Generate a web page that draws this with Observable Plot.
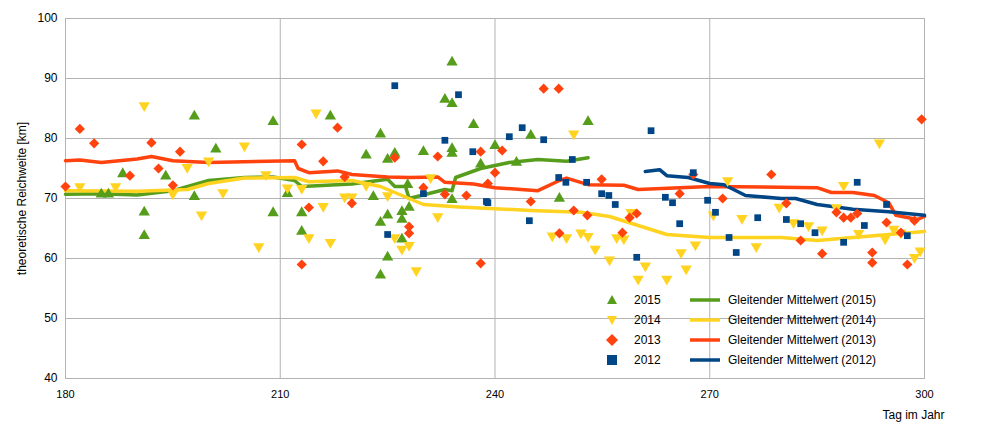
<!DOCTYPE html>
<html><head><meta charset="utf-8">
<script src="https://cdn.jsdelivr.net/npm/d3@7"></script>
<script src="https://cdn.jsdelivr.net/npm/@observablehq/plot@0.6"></script>
<style>
body{margin:0;background:#fff;font-family:"Liberation Sans",Arial,sans-serif;}
#wrap{position:relative;width:997px;height:435px;}
#legend{position:absolute;left:600px;top:290px;font-size:12px;color:#000;}
.row{height:20px;display:flex;align-items:center;}
.it{display:inline-flex;align-items:center;}
</style></head><body>
<div id="wrap"><div id="chart"></div><div id="legend"></div></div>
<script>
const s2015 = [[185,70.7],[186,70.7],[188,74.1],[191,67.7],[191,63.8],[194,73.7],[198,83.7],[198,70.3],[201,78.2],[209,82.8],[209,67.6],[211,70.8],[213,67.6],[213,64.5],[217,83.7],[222,77.2],[223,70.3],[224,80.7],[224,66],[224,57.2],[225,76.5],[225,67.2],[225,60.2],[226,77.5],[227,67.8],[227,66.5],[227,63.2],[227.8,72.3],[228,68.5],[230,77.8],[233,86.5],[234,92.7],[234,85.8],[234,78.3],[234,77.5],[234,69.8],[237,82.3],[238,75.7],[240,78.8],[243,76],[245,80.5],[249,70],[253,82.8]];
const s2014 = [[182,72],[187,72],[191,85.5],[195,70.8],[197,75.2],[199,67.3],[200,76.3],[202,71],[205,78.8],[207,62],[208,74],[211,71.8],[213,71.7],[214,63.5],[215,84.3],[216,68.7],[217,62.7],[219,70.3],[220,70.3],[222,72.2],[225,70.5],[226,63.5],[227,61.6],[228,62.2],[229,58],[231,73.5],[232,67],[248,63.8],[250,63.5],[251,80.8],[252,64.3],[253,63.7],[254,61.6],[256,59.8],[257,63.5],[258,63.3],[259,67.7],[260,56.6],[261,58.8],[264,56.6],[266,61],[266.7,58.3],[268,62.3],[270.5,67.3],[272.5,73],[274.5,66.7],[276.5,62],[279.7,68.6],[281.7,66],[283.8,65.5],[285.7,64.8],[287.7,68.5],[288.7,72.2],[290.8,64.2],[293.7,79.3],[294.5,63.3],[295.7,64.9],[296.7,64.3],[298.6,60.2],[299.4,61.3]];
const s2013 = [[180,72],[182,81.6],[184,79.2],[189,73.8],[192,79.3],[193,75],[195,72.2],[196,77.8],[213,79],[213,59],[214,68.5],[216,76.2],[218,81.8],[219,73.6],[220,69.2],[226,76.8],[228,65.3],[228,64.2],[230,71.8],[232,77],[233,70.7],[236,70.5],[238,77.8],[238,59.2],[239,72.5],[240,74.3],[241,78],[245,69.5],[246.8,88.3],[248.9,88.3],[249,64.2],[251,68],[252.9,67.2],[254.9,73.2],[257.8,64.3],[258.8,66.8],[259.8,67.5],[265.8,70.8],[267.7,74],[271.8,70],[278.6,74],[280.7,69.2],[282.7,63],[285.7,60.8],[287.7,67.7],[288.7,66.8],[289.7,66.8],[290.6,67.5],[292.7,61],[292.7,59.3],[294.7,66],[296.7,64.3],[297.6,59],[298.6,66.3],[299.6,83.2]];
const s2012 = [[225,64],[226,88.8],[230,70.8],[233,79.7],[234.9,87.3],[236.9,77.8],[238.8,69.5],[239,69.3],[242,80.3],[243.8,81.8],[244.8,66.3],[246.8,79.8],[248.9,73.5],[249.9,72.7],[250.8,76.5],[252.8,72.7],[254.9,70.8],[255.9,70.5],[256.8,69],[259.8,60.2],[261.8,81.3],[263.8,70.2],[264.8,69.3],[265.8,65.8],[267.7,74.3],[269.7,69.7],[270.8,67.7],[272.7,63.5],[273.7,61],[276.7,66.8],[280.7,66.5],[282.7,65.8],[284.7,64.3],[288.7,62.7],[290.6,72.7],[291.6,65.5],[294.7,69],[297.6,63.8]];
const m2015 = [[180,70.7],[185,70.8],[190,70.6],[195,71.3],[200,73],[205,73.5],[209,73.6],[212,73],[213,72],[220,72.4],[225,73.2],[226,72],[227.5,72],[228,70],[233,71.5],[234,71.3],[234.5,73.5],[238,75],[242,76],[246,76.5],[250,76.2],[253,76.8]];
const m2014 = [[180,71.3],[190,71.2],[197,71.5],[200,72.5],[205,73.4],[212,73.5],[214,72.8],[220,73],[224,72],[226,71],[230,69],[235,68.6],[245,68],[252,67.7],[256,67],[260,65.5],[264,64],[270,63.5],[280,63.5],[285,63],[290,63.5],[295,64],[300,64.5]];
const m2013 = [[180,76.3],[182,76.4],[185,76],[190,76.6],[192,77],[195,76.3],[200,76],[212,76.3],[212.5,75],[214,74.3],[218,74.6],[220,74],[225,73.6],[228,73.5],[232,73.6],[233,72.7],[237,72.4],[240,71.8],[246,71.3],[249,73],[250,73.4],[253,72.3],[258,72.2],[260,71.5],[270,72],[285,71.8],[287,71],[290,71],[293,70.5],[295,69.3],[296,67.2],[299,66.5],[300,67]];
const m2012 = [[261,74.5],[263,74.8],[264,73.8],[267,73.5],[270,72.5],[272,72.3],[275,70.5],[280,70],[282,70],[285,69],[290,68.2],[295,67.8],[300,67.2]];
const xTicks = [180,210,240,270,300];
const yTicks = [40,50,60,70,80,90,100];
const C = {g:"#579d1c", y:"#ffd320", r:"#ff420e", b:"#004586"};

const pts = (a)=>a.map(([x,y])=>({x,y}));
const chart = Plot.plot({
  width:997, height:435,
  marginLeft:65, marginRight:73, marginTop:18, marginBottom:57,
  style:{fontFamily:"Liberation Sans, Arial, sans-serif", fontSize:"11px"},
  x:{domain:[180,300], label:null},
  y:{domain:[40,100], label:null},
  marks:[
    Plot.gridX(xTicks,{stroke:"#b3b3b3", strokeOpacity:1}),
    Plot.gridY(yTicks,{stroke:"#b3b3b3", strokeOpacity:1}),
    Plot.frame({stroke:"#b3b3b3"}),
    Plot.line(pts(m2015),{x:"x",y:"y",stroke:C.g,strokeWidth:3.5}),
    Plot.line(pts(m2014),{x:"x",y:"y",stroke:C.y,strokeWidth:3.5}),
    Plot.line(pts(m2013),{x:"x",y:"y",stroke:C.r,strokeWidth:3.5}),
    Plot.line(pts(m2012),{x:"x",y:"y",stroke:C.b,strokeWidth:3.5}),
    Plot.dot(pts(s2015),{x:"x",y:"y",symbol:"triangle",fill:C.g,r:4.2}),
    Plot.dot(pts(s2014),{x:"x",y:"y",symbol:"triangle",fill:C.y,r:4.2,rotate:180}),
    Plot.dot(pts(s2013),{x:"x",y:"y",symbol:"diamond2",fill:C.r,stroke:"none",r:4.6}),
    Plot.dot(pts(s2012),{x:"x",y:"y",symbol:"square",fill:C.b,r:3.8}),
    Plot.axisY({ticks:yTicks,label:"theoretische Reichweite [km]",labelAnchor:"center",labelArrow:"none",labelOffset:48,tickSize:0,tickPadding:8,fontSize:12}),
    Plot.axisX({ticks:xTicks,label:null,tickSize:0,tickPadding:12,fontSize:11}),
    Plot.text(["Tag im Jahr"],{frameAnchor:"bottom-right",dy:40,dx:20,fontSize:12,textAnchor:"end"})
  ]
});
document.getElementById("chart").appendChild(chart);

const leg = [
  ["2015",C.g,"tri","Gleitender Mittelwert (2015)"],
  ["2014",C.y,"itri","Gleitender Mittelwert (2014)"],
  ["2013",C.r,"dia","Gleitender Mittelwert (2013)"],
  ["2012",C.b,"sq","Gleitender Mittelwert (2012)"]];
const shape = {tri:'<polygon points="6,1 11,10 1,10"/>', itri:'<polygon points="1,2 11,2 6,11"/>', dia:'<polygon points="6,0 12,6 6,12 0,6"/>', sq:'<rect x="1" y="1" width="10" height="10"/>'};
document.getElementById("legend").innerHTML = leg.map(([y,c,s,t])=>
 `<div class="row"><span class="it" style="width:90px"><svg width="12" height="12" style="fill:${c};margin-left:6px;margin-right:16px">${shape[s]}</svg>${y}</span><span class="it"><svg width="30" height="6" style="margin-right:8px"><line x1="0" x2="30" y1="3" y2="3" stroke="${c}" stroke-width="3.5"/></svg>${t}</span></div>`).join("");
</script></body></html>
